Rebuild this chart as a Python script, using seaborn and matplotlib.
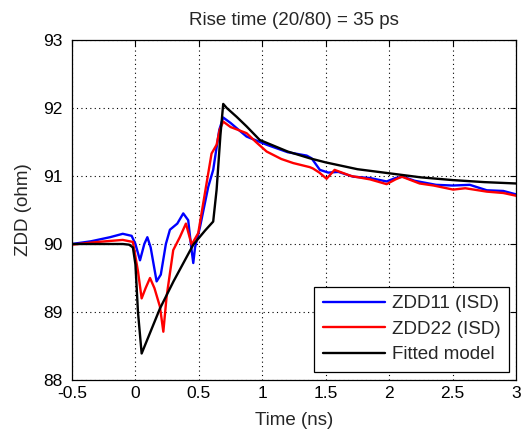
import numpy as np
import pandas as pd
import seaborn as sns
import matplotlib
matplotlib.use("Agg")
import matplotlib.pyplot as plt

# Measured differential impedance, port 1
t_zdd11 = [-0.5, -0.35, -0.2, -0.1, -0.03, 0.0, 0.036, 0.07, 0.094, 0.12, 0.167, 0.2, 0.24, 0.272,
           0.33, 0.377, 0.416, 0.44, 0.456, 0.47, 0.509, 0.574, 0.613, 0.661, 0.692, 0.75, 0.876,
           1.034, 1.2, 1.35, 1.389, 1.454, 1.52, 1.6, 1.717, 1.85, 1.98, 2.05, 2.11, 2.2, 2.37, 2.5,
           2.636, 2.77, 2.9, 3.0]
zdd11 = [90.0, 90.04, 90.1, 90.15, 90.12, 90.0, 89.76, 90.0, 90.10, 89.95, 89.45, 89.55, 90.0, 90.21,
         90.3, 90.45, 90.35, 89.95, 89.72, 89.95, 90.25, 90.84, 91.09, 91.68, 91.86, 91.78, 91.58,
         91.46, 91.35, 91.3, 91.26, 91.09, 91.05, 91.06, 90.99, 90.97, 90.92, 90.97, 90.99, 90.93,
         90.87, 90.86, 90.87, 90.79, 90.78, 90.73]

# Measured differential impedance, port 2
t_zdd22 = [-0.5, -0.3, -0.1, -0.02, 0.02, 0.049, 0.08, 0.115, 0.15, 0.193, 0.22, 0.246, 0.298, 0.35,
           0.398, 0.443, 0.495, 0.548, 0.60, 0.64, 0.664, 0.692, 0.75, 0.876, 0.95, 1.034, 1.15,
           1.244, 1.375, 1.40, 1.45, 1.507, 1.57, 1.7, 1.85, 1.98, 2.05, 2.10, 2.24, 2.35, 2.505,
           2.6, 2.77, 2.9, 3.0]
zdd22 = [89.99, 90.03, 90.06, 90.03, 89.6, 89.20, 89.35, 89.50, 89.35, 89.08, 88.71, 89.23, 89.91, 90.1,
         90.30, 89.99, 90.16, 90.75, 91.33, 91.46, 91.68, 91.80, 91.72, 91.63, 91.5, 91.36, 91.25,
         91.19, 91.13, 91.11, 91.05, 90.96, 91.09, 91.0, 90.95, 90.88, 90.95, 90.99, 90.89, 90.86,
         90.80, 90.82, 90.77, 90.75, 90.71]

# Fitted model response
t_fit = [-0.5, -0.1, -0.05, -0.02, 0.0, 0.02, 0.049, 0.193, 0.3, 0.456, 0.55, 0.613, 0.64, 0.67,
         0.692, 0.72, 0.798, 0.876, 0.98, 1.2, 1.375, 1.5, 1.75, 2.0, 2.25, 2.5, 2.75, 3.0]
z_fit = [90.0, 90.0, 89.99, 89.95, 89.7, 89.0, 88.39, 89.05, 89.45, 89.99, 90.2, 90.33, 90.8, 91.6,
         92.06, 92.0, 91.87, 91.73, 91.53, 91.36, 91.26, 91.2, 91.1, 91.04, 90.98, 90.94, 90.91, 90.89]

series_names = ["ZDD11 (ISD)", "ZDD22 (ISD)", "Fitted model"]
series_colors = ["#0000ff", "#ff0000", "#000000"]
x_ticks = [-0.5, 0, 0.5, 1, 1.5, 2, 2.5, 3]
x_tick_labels = ["-0.5", "0", "0.5", "1", "1.5", "2", "2.5", "3"]
y_ticks = [88, 89, 90, 91, 92, 93]

sns.set_style("white")
plt.rcParams["font.family"] = ["Liberation Sans", "DejaVu Sans"]

fig = plt.figure(figsize=(5.24, 4.36), dpi=100)
ax = fig.add_axes([72 / 524, 1 - 380 / 436, 444 / 524, 340 / 436])

frames = [
    pd.DataFrame({"t": t_zdd11, "z": zdd11}),
    pd.DataFrame({"t": t_zdd22, "z": zdd22}),
    pd.DataFrame({"t": t_fit, "z": z_fit}),
]
for df, name, col in zip(frames, series_names, series_colors):
    sns.lineplot(data=df, x="t", y="z", ax=ax, color=col, linewidth=1.7,
                 label=name, sort=False, estimator=None)

ax.set_xlim(-0.5, 3)
ax.set_ylim(88, 93)
ax.set_xticks(x_ticks)
ax.set_xticklabels(x_tick_labels)
ax.set_yticks(y_ticks)
ax.grid(True, linestyle=(0, (1, 3)), color="black", linewidth=0.8)
ax.tick_params(direction="in", top=True, right=True, length=4, width=0.8,
               labelsize=12.5, colors="black")
ax.tick_params(axis="x", pad=4)
ax.tick_params(axis="y", pad=7)
for s in ax.spines.values():
    s.set_color("black")
    s.set_linewidth(0.9)

ax.set_title("Rise time (20/80) = 35 ps", fontsize=13.5, pad=11)
ax.set_xlabel("Time (ns)", fontsize=13.5, labelpad=8)
ax.set_ylabel("ZDD (ohm)", fontsize=13.5, labelpad=8)

leg = ax.legend(loc="lower right", bbox_to_anchor=(0.985, 0.024), borderaxespad=0,
                fancybox=False, framealpha=1, edgecolor="black", fontsize=13.5,
                handlelength=3.3, handletextpad=0.4, borderpad=0.45, labelspacing=0.45)
leg.get_frame().set_linewidth(0.9)

fig.savefig("out.png", dpi=100)
